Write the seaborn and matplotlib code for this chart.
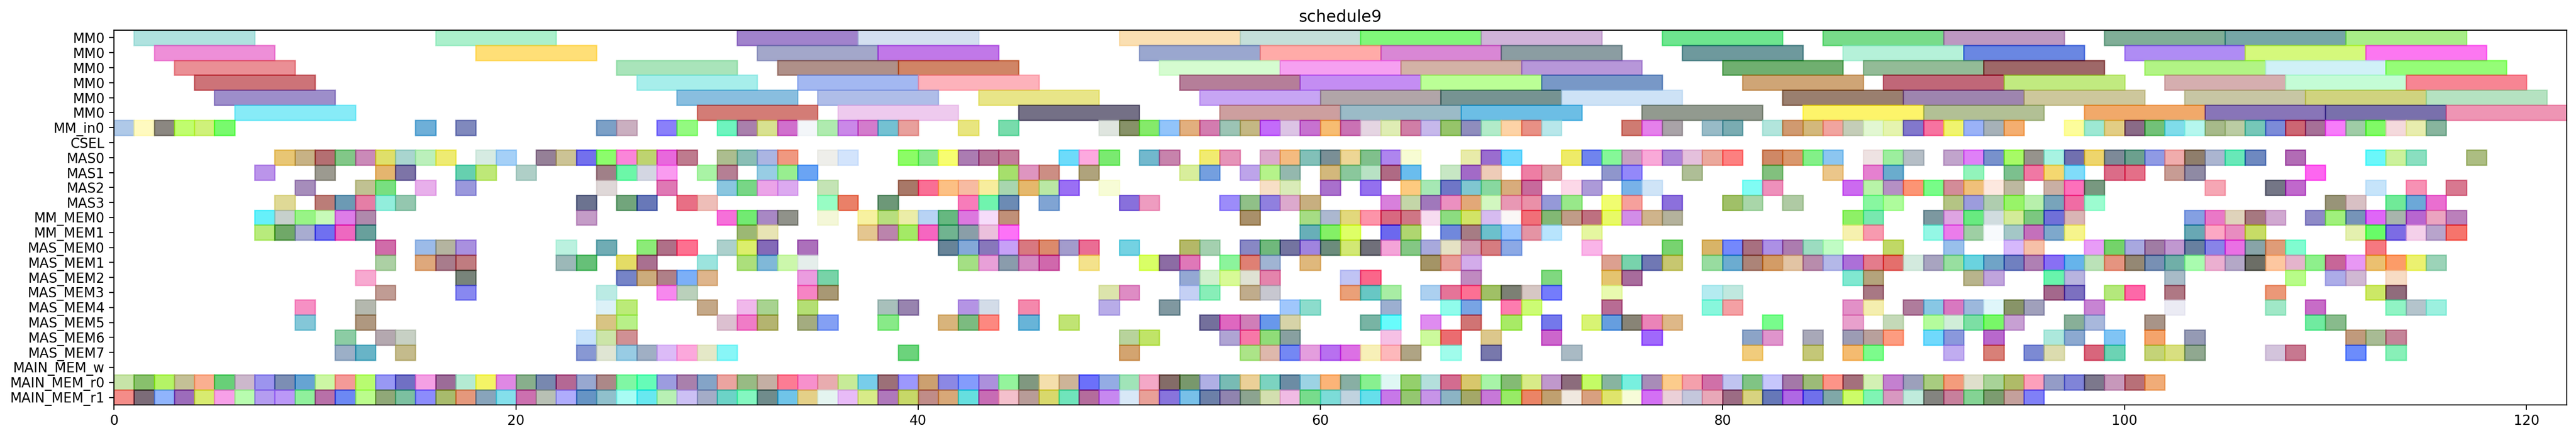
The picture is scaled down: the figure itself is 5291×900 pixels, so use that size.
import matplotlib
matplotlib.use('Agg')
import matplotlib.pyplot as plt
from matplotlib.colors import to_rgb
import numpy as np
import seaborn as sns

# row names, top to bottom
row_labels = ['MM0', 'MM0', 'MM0', 'MM0', 'MM0', 'MM0', 'MM_in0', 'CSEL',
              'MAS0', 'MAS1', 'MAS2', 'MAS3', 'MM_MEM0', 'MM_MEM1',
              'MAS_MEM0', 'MAS_MEM1', 'MAS_MEM2', 'MAS_MEM3', 'MAS_MEM4',
              'MAS_MEM5', 'MAS_MEM6', 'MAS_MEM7', 'MAIN_MEM_w', 'MAIN_MEM_r0', 'MAIN_MEM_r1']

# the six MM0 rows run for 6 cycles, everything else for 1
mm_duration = 6
cell_duration = 1

mm0_a_start = [1, 16, 31, 37, 50, 56, 62, 68, 77, 85, 91, 99, 105, 111]
mm0_a_color = ['#b0e3df', '#abf0cc', '#a183cc', '#d3e0f0', '#fadfb3', '#c5dfda', '#80f87a', '#d0b3d9', '#6ee58f', '#78dc8a', '#bd98c2', '#80ae97', '#76a6a7', '#a8ef88']
mm0_b_start = [2, 18, 32, 38, 51, 57, 63, 69, 78, 86, 92, 100, 106, 112]
mm0_b_color = ['#ef8fd8', '#ffdf77', '#a3a7cb', '#c278e8', '#9aa7cf', '#ffaba8', '#da87d5', '#8b9da2', '#6e999d', '#b5f1da', '#6a87e2', '#b08cf5', '#d5f97c', '#fc77f2']
mm0_c_start = [3, 25, 33, 39, 52, 58, 64, 70, 80, 87, 93, 101, 107, 113]
mm0_c_color = ['#ea8f95', '#a9e4ba', '#b09089', '#d18565', '#d5fcd0', '#f6a0f2', '#d4b3a6', '#b797d9', '#70af70', '#93bc97', '#9e6868', '#b3f485', '#d0f2f8', '#95fe77']
mm0_d_start = [4, 26, 34, 40, 53, 59, 65, 71, 81, 88, 94, 102, 108, 114]
mm0_d_color = ['#cd7378', '#a7eeec', '#a3b9f2', '#fdb2bc', '#b67e99', '#c58df3', '#bbff96', '#7898c8', '#cfa576', '#c06778', '#c2ea80', '#d5aeb0', '#c4fcd7', '#f78593']
mm0_e_start = [5, 28, 35, 43, 54, 60, 66, 72, 83, 89, 95, 103, 109, 115]
mm0_e_color = ['#9d8eca', '#89bfdf', '#b0bde8', '#e9e688', '#c8a5f4', '#b1a5a8', '#769392', '#cde3f6', '#9a7f6f', '#9e85b0', '#cdc89c', '#c8c6a4', '#d0d37f', '#b6e2c2']
mm0_f_start = [6, 29, 36, 45, 55, 61, 67, 76, 84, 90, 98, 104, 110, 116]
mm0_f_color = ['#87ebf8', '#d47c76', '#efcbee', '#747086', '#cd9f9f', '#9bbcc7', '#6cbfe6', '#929a8f', '#fef46a', '#b2c095', '#f2a96a', '#8875b8', '#7970ac', '#ee95b4']

mm_in0_start = [0, 1, 2, 3, 4, 5, 15, 17, 24, 25, 27, 28, 30, 31, 32, 33, 34, 35, 36, 37, 38, 39, 42, 44, 49, 50, 51, 52, 53, 54, 55, 56, 57, 58, 59, 60, 61, 62, 63, 64, 65, 66, 67, 68, 69, 70, 71, 75, 76, 77, 79, 80, 82, 83, 84, 85, 86, 87, 88, 89, 90, 91, 92, 93, 94, 97, 98, 99, 100, 101, 102, 103, 104, 105, 106, 107, 108, 109, 110, 111, 112, 113, 114, 115]
mm_in0_color = ['#b0c9e9', '#fffac0', '#8b8781', '#c0fd6e', '#cff27a', '#78fb6d', '#6eb0d8', '#8089bd', '#7ca0c6', '#cbb0c0', '#8a80fb', '#93fb80', '#6ef5bf', '#a980ac', '#d8e190', '#d070ce', '#f3f6f9', '#b0ebb0', '#cb88e8', '#d47ccc', '#74c1d2', '#e8a09c', '#e9e67f', '#78dcac', '#e0e6e0', '#879268', '#85ea6a', '#92c4fb', '#e3b07e', '#d47cb0', '#9cc5b5', '#c4b884', '#c36bfb', '#dcc4e6', '#c872d0', '#f8bd72', '#ca72b4', '#e6d5e3', '#e0edb4', '#d07ea6', '#c6b9ec', '#96c46a', '#8f8dbd', '#b3ecc9', '#fdd4a6', '#e89085', '#b8e7ea', '#cf7b72', '#e680ec', '#aaa3a8', '#98bbc8', '#7aacb3', '#b3e5dc', '#d19a70', '#d4b87c', '#f2a49f', '#c5cdb9', '#e2f7d2', '#e6f5b0', '#8278cc', '#f873a0', '#f0f56e', '#9ab2f8', '#a6b1b8', '#f4ae70', '#fdfd9b', '#9de8d3', '#e3cd84', '#8a6b87', '#72c178', '#7fdcea', '#b6f8ee', '#a7ba8a', '#bbcca3', '#76c8b8', '#7c8bd8', '#cc6473', '#a67097', '#f87cfa', '#9fcca6', '#80fa5e', '#f5d9dd', '#e9edae', '#88b69e']

csel_start = []
csel_color = []

mas0_start = [8, 9, 10, 11, 12, 13, 14, 15, 16, 18, 19, 21, 22, 23, 24, 25, 26, 27, 28, 30, 31, 32, 33, 35, 36, 39, 40, 41, 42, 43, 44, 47, 48, 49, 51, 52, 54, 55, 57, 58, 59, 60, 61, 62, 63, 64, 67, 68, 69, 72, 73, 74, 75, 76, 77, 78, 79, 80, 82, 83, 84, 85, 87, 88, 89, 91, 92, 93, 94, 95, 96, 97, 98, 99, 100, 101, 102, 103, 104, 105, 106, 108, 112, 113, 114, 117]
mas0_color = ['#e8c674', '#c8b285', '#b46f72', '#82c888', '#ca8ab8', '#e0e06a', '#aad5cf', '#bbf0bb', '#efeb72', '#d6ece2', '#a5d0f7', '#958097', '#ccc395', '#7370ed', '#8cfc6c', '#fb85d9', '#bed470', '#e868dc', '#bf7b8e', '#adbd8f', '#8abfb5', '#abb6e3', '#f09880', '#eeeeea', '#d4e4fc', '#8cfc66', '#8ae890', '#f7fe70', '#ab7cb2', '#b6749a', '#c47d9b', '#6ddbfb', '#fda9e0', '#7aea70', '#72b9cd', '#c883ad', '#f1eb70', '#e593b8', '#dcaacc', '#f4bc80', '#82c0b8', '#7a8f96', '#edd695', '#80c08c', '#ae85ee', '#f7fcd3', '#e9ecaa', '#9a6dcf', '#70d8fd', '#eeec68', '#7084ef', '#85f898', '#c6a0c2', '#f9a9d8', '#ac85d8', '#e4c0dc', '#eca89c', '#fd8080', '#cf8866', '#da976d', '#83f088', '#8cc6f0', '#efe2e2', '#9cee9e', '#b6bec6', '#c2a4cc', '#e080f7', '#7891cc', '#a7fa66', '#96938c', '#a8f3e3', '#7170af', '#efd56c', '#7d8a98', '#6ca08e', '#8f9ae4', '#f0acac', '#8f7e6c', '#abb6d0', '#68e8b8', '#6e89c0', '#b26cb6', '#6bf8fa', '#ccf29c', '#8ae0c0', '#acbd82']

mas1_start = [7, 10, 13, 14, 17, 18, 20, 24, 25, 26, 27, 29, 30, 32, 33, 34, 44, 45, 46, 48, 53, 54, 56, 57, 58, 60, 61, 62, 63, 64, 66, 67, 68, 70, 71, 74, 75, 78, 82, 85, 87, 88, 92, 94, 95, 96, 97, 99, 100, 102, 103, 109]
mas1_color = ['#bc94ea', '#9c9a90', '#e4b56f', '#7d74a7', '#64d0b0', '#bfe878', '#b0cfc8', '#a08088', '#6cf8a8', '#d3d7e3', '#fa9bf0', '#a9f3a5', '#b67f94', '#98cde4', '#98ee90', '#6aa4f4', '#a6e06c', '#de95c0', '#cc8e84', '#b0a37c', '#d8ee9c', '#749fe0', '#bda4ea', '#b5f38a', '#94b8ae', '#d3b87c', '#8ac89c', '#b8e3c4', '#b06a84', '#6abdee', '#c8e7c4', '#a26ac8', '#eeccb8', '#ee7ea4', '#dea0a8', '#8f96cc', '#9388fb', '#aebe96', '#82c07e', '#ecc68a', '#e680d0', '#6aacce', '#92f4bc', '#7cc08e', '#f078a4', '#f5d870', '#80dcfb', '#db6c88', '#e46f88', '#c89c94', '#8f8aa4', '#fd58f0']

mas2_start = [9, 12, 13, 15, 17, 24, 27, 30, 31, 32, 33, 35, 39, 40, 41, 42, 43, 44, 45, 46, 47, 49, 57, 58, 60, 62, 64, 65, 66, 67, 68, 69, 70, 72, 73, 75, 76, 81, 82, 86, 87, 88, 89, 90, 91, 92, 93, 94, 96, 97, 98, 104, 107, 108, 112, 114, 116]
mas2_color = ['#a68dbc', '#c0c292', '#78e080', '#e8b0ec', '#9a98dc', '#e0d8d8', '#e078b4', '#8ac6e0', '#78d686', '#eba4e8', '#dcaaf0', '#c4e4b5', '#a87868', '#f96f95', '#fcc084', '#f8bca2', '#f7ed9d', '#a8d6b0', '#e6b86c', '#bae9a4', '#9a6ff4', '#f8fcd6', '#f7dfc6', '#d9ecb8', '#aa70cc', '#9470ee', '#fdca7f', '#a6e8b4', '#6f76c8', '#80c8d0', '#88d8a0', '#d8ac7c', '#c86a9c', '#fcd8e8', '#ac9ad8', '#78b2e8', '#cfe4f8', '#80fcf4', '#ee90bc', '#cc6af0', '#b8f4a8', '#b690c4', '#fc9474', '#78fc88', '#d48c98', '#f0c07a', '#fde9e0', '#bdb8a0', '#c9b0a4', '#fe70bc', '#789880', '#f6a6b4', '#747686', '#c068cc', '#c6e4fa', '#f891b4', '#d87890']

mas3_start = [8, 10, 11, 12, 13, 14, 23, 25, 26, 28, 29, 35, 36, 38, 42, 43, 44, 46, 50, 51, 55, 56, 57, 58, 59, 63, 64, 65, 66, 67, 68, 69, 70, 71, 72, 74, 75, 77, 80, 81, 83, 87, 88, 91, 92, 93, 94, 95, 96, 97, 98, 110, 111, 113, 114, 115]
mas3_color = ['#e0da96', '#bc7d78', '#6c9ab4', '#e67ea6', '#92eedc', '#94c8b0', '#6c7390', '#72a57c', '#6878b8', '#e96f85', '#efbfb8', '#98fdc4', '#ea8068', '#6d9878', '#f87cba', '#70f4ae', '#6c8bb4', '#80a4d4', '#8870dc', '#ee9cc0', '#9c8cfa', '#90c088', '#9080e0', '#dcaace', '#c8b080', '#d880dc', '#c4d6a8', '#a078bc', '#ec90c0', '#e2a878', '#d2f8c0', '#e898b4', '#ea90a8', '#9599d8', '#98e88a', '#f0fe70', '#f6a09c', '#8c70dc', '#a0c068', '#aad6aa', '#b0cba4', '#88f8a0', '#aefc9c', '#b4c484', '#9c9cdc', '#b0ceb0', '#98f568', '#b8f0ac', '#78a4bc', '#f06ca4', '#9cfcd0', '#989478', '#d8c0c4', '#70ea98', '#6ca8d8', '#ea6ed0']

mm_mem0_start = [7, 8, 9, 10, 11, 12, 23, 30, 31, 32, 33, 35, 37, 38, 39, 40, 41, 42, 43, 44, 56, 59, 60, 61, 62, 63, 64, 65, 66, 67, 68, 69, 70, 71, 72, 73, 74, 75, 76, 77, 86, 87, 90, 91, 92, 93, 94, 95, 96, 97, 103, 104, 105, 106, 107, 109, 110, 111, 112, 113, 114, 115, 116]
mm_mem0_color = ['#66f0fa', '#c6d0cc', '#98f586', '#c8fbb8', '#de7ce9', '#b089ac', '#c49cc8', '#f670da', '#72ea72', '#a888c4', '#90928a', '#f4f8d8', '#f8f2a0', '#b8de7e', '#ecedA8', '#b8d4f4', '#66b880', '#dc78e0', '#f6dcfa', '#c09078', '#aa906a', '#a6dc84', '#acb8d0', '#e2d87c', '#fd94aa', '#d86880', '#cf7685', '#f8dcf0', '#8cdc80', '#d2e466', '#d6bcf0', '#faf8f6', '#f26f78', '#82b874', '#c09c88', '#bf7080', '#e8fa60', '#d28de8', '#cfb48c', '#b4b29c', '#8ef060', '#78e8b0', '#7c98a0', '#dea4e2', '#68ea80', '#d0dce0', '#d4ec98', '#7cc880', '#7070d8', '#dab6b6', '#84a0e2', '#ea78c8', '#e0d4bc', '#a67880', '#d0a8d0', '#8e8ac8', '#a0f07c', '#7694b8', '#e060f8', '#a8b4ac', '#b864d0', '#eca4c0', '#bb80bc']

mm_mem1_start = [7, 8, 9, 10, 11, 12, 31, 32, 37, 38, 39, 40, 41, 42, 43, 44, 59, 60, 61, 63, 64, 66, 67, 68, 69, 70, 71, 73, 86, 87, 90, 91, 92, 93, 94, 95, 96, 97, 103, 104, 105, 106, 111, 112, 113, 114, 115, 116]
mm_mem1_color = ['#b8ec7c', '#70a868', '#a8acd0', '#7070f0', '#ee68c0', '#68a09c', '#9cb874', '#e8e4b4', '#e4c690', '#bc84ac', '#a4ea60', '#f664c0', '#70b490', '#8a9ea8', '#ecc0dc', '#fd72f8', '#68b0b8', '#84f060', '#deff66', '#6c68ee', '#b0d670', '#7088dc', '#a67c84', '#6cc0cc', '#96c4fc', '#e494a4', '#b8e4fd', '#e6f6a0', '#f6f2b0', '#f89ab0', '#94f8e6', '#ec7cec', '#9ecfa4', '#f8fafd', '#a4c8c8', '#c470bc', '#7ea8cc', '#f6f48c', '#68a8b4', '#fca8c4', '#e88cc0', '#c8dc66', '#e4f0b0', '#68fc68', '#7c6ce4', '#f4d0ea', '#b8a4cc', '#f6746c']

mas_mem0_start = [13, 15, 16, 17, 22, 24, 26, 27, 28, 30, 31, 32, 34, 41, 42, 43, 44, 45, 46, 47, 48, 50, 53, 54, 56, 57, 58, 59, 60, 61, 62, 63, 64, 65, 66, 67, 68, 69, 73, 77, 79, 80, 81, 82, 83, 84, 85, 88, 91, 94, 95, 98, 99, 100, 101, 102, 103, 104, 105, 106, 107, 108, 112]
mas_mem0_color = ['#d06caa', '#9cbce8', '#b4b4a0', '#aa90e0', '#bcf2e0', '#70acb4', '#8cec78', '#b07088', '#fe7090', '#acd0cc', '#dcee6c', '#846ab8', '#ac70bc', '#688498', '#84aad8', '#8878bc', '#c8a0f8', '#d87880', '#dc8a6c', '#a39ccc', '#ea6d94', '#74d2e2', '#b4b868', '#a4d0b0', '#8888c4', '#70b87c', '#7474a0', '#a084e0', '#6c8c7c', '#d2e874', '#70707a', '#f4a4d8', '#84c884', '#a8aadc', '#e6e2c4', '#d09ab0', '#d67c80', '#8caae6', '#fab4e8', '#78d470', '#d8b468', '#7488fc', '#a87080', '#ac90e6', '#ac7cb0', '#9cdcc0', '#c0fcc4', '#c0d860', '#98c0ec', '#d6b8fc', '#f6c0a8', '#e89cf8', '#74d46a', '#a8a8e0', '#a07ca4', '#c098d0', '#6880a0', '#8884e8', '#ea70e4', '#88a4a8', '#e09c78', '#80fcd0', '#f67880']

mas_mem1_start = [13, 15, 16, 17, 22, 23, 25, 26, 29, 31, 32, 33, 34, 42, 43, 44, 45, 46, 48, 51, 52, 53, 55, 56, 57, 59, 65, 66, 67, 74, 75, 76, 77, 79, 80, 81, 82, 83, 84, 85, 86, 87, 88, 89, 90, 91, 92, 93, 94, 95, 96, 97, 98, 99, 100, 101, 102, 103, 104, 105, 106, 107, 108, 109, 110, 111, 112, 113, 114, 115]
mas_mem1_color = ['#acd0a4', '#dea87c', '#a87c8c', '#c07c80', '#9cb8b8', '#66c078', '#e4dc60', '#aa7090', '#9ce4de', '#ace07c', '#80b8d8', '#ccf8ac', '#e6eeec', '#a4e084', '#e8a0d8', '#8a9cac', '#d488c0', '#d068ac', '#f4e28c', '#daff60', '#8c6ca4', '#e078b8', '#8cf49c', '#e08074', '#a0b4d4', '#e0b87c', '#a49464', '#e89c98', '#d4acea', '#dca090', '#78d4ac', '#7078b4', '#c8c870', '#98dca0', '#6cacd0', '#ac8478', '#d49c66', '#e2c4a4', '#b88cac', '#b4b8e8', '#ac70d8', '#e47c8c', '#e46f6c', '#d4eade', '#a8a4c0', '#98e0a0', '#6ad4e0', '#70a4c8', '#7080c0', '#b080b4', '#8870f4', '#64b4ec', '#bce2b8', '#e69480', '#948874', '#7890b4', '#70b0a8', '#aafcb0', '#ecb0d0', '#b4a8c8', '#6c6e64', '#fec8a0', '#e4b4cc', '#8ef08c', '#c86698', '#e898f4', '#ecc070', '#fc9c68', '#ecf270', '#9cd4b8']

mas_mem2_start = [12, 17, 25, 26, 27, 28, 29, 34, 35, 53, 54, 55, 56, 57, 61, 62, 67, 71, 74, 75, 86, 87, 92, 93, 96, 97, 102, 108, 110, 111, 113]
mas_mem2_color = ['#f8aad0', '#78847a', '#7684c8', '#ccac7c', '#b08088', '#7cb0f8', '#deb68c', '#ec9ce0', '#78d4a8', '#94a8d4', '#d0f0cc', '#d8fa96', '#e0e2d4', '#e484ac', '#c0c4f4', '#fa668a', '#c08ac0', '#80d880', '#e4c470', '#a86c9c', '#80e8d0', '#b4a47c', '#b8b48c', '#c0a4dc', '#68f4ac', '#b8b4e0', '#a8bcc8', '#b8fc88', '#acace8', '#d0b8d4', '#f8dcc4']

mas_mem3_start = [13, 17, 24, 27, 28, 34, 35, 49, 50, 53, 54, 56, 57, 61, 62, 63, 65, 66, 67, 68, 69, 70, 71, 74, 79, 80, 87, 96, 97, 99, 100, 102, 107, 112, 113]
mas_mem3_color = ['#c09c94', '#8888f0', '#bcece4', '#f888ee', '#bad0bc', '#f684c4', '#a89874', '#dce4ac', '#de8cc4', '#c4d0f4', '#88eeb8', '#c0ac8c', '#c8c8d0', '#eaa078', '#68c8c4', '#a8eda4', '#acd0f0', '#e67498', '#fe7094', '#a0c060', '#7c8074', '#d6c8c4', '#747cfc', '#e8fab0', '#b4ecf0', '#c0e8e0', '#a87884', '#a4688c', '#7c70c0', '#b4e87c', '#fe68a8', '#b07884', '#ec9878', '#cce85c', '#906c7c']

mas_mem4_start = [9, 12, 24, 25, 29, 31, 32, 34, 38, 39, 42, 43, 45, 49, 52, 58, 59, 63, 66, 67, 69, 70, 74, 79, 80, 86, 87, 89, 90, 91, 92, 93, 94, 95, 98, 102, 107, 109, 113, 114, 115]
mas_mem4_color = ['#f690c4', '#b4b8ae', '#dcf2f8', '#bcec78', '#c4a888', '#f0b8ec', '#a8d490', '#b4e074', '#a8c0bc', '#9884b0', '#b494e4', '#d4dce8', '#f488ac', '#b8ace8', '#8098a0', '#a0c8fc', '#8cdccc', '#9cb0d0', '#90fcec', '#78a4e4', '#fe7cb0', '#ccfc74', '#b86c94', '#88f8dc', '#f4a0a4', '#e290c8', '#f4eeb0', '#b07c9c', '#88c8e4', '#d878c0', '#9cb8dc', '#e0f6fa', '#889468', '#a0a0bc', '#c884d4', '#ececf4', '#a0e8c8', '#c86cc8', '#90f4c4', '#b4c4cc', '#9cf0e0']

mas_mem5_start = [9, 12, 24, 25, 30, 31, 32, 34, 35, 38, 41, 42, 43, 45, 47, 54, 55, 56, 57, 58, 62, 63, 65, 67, 69, 71, 73, 74, 75, 76, 77, 82, 86, 88, 90, 91, 92, 93, 94, 97, 98, 101, 109, 110]
mas_mem5_color = ['#84c8d8', '#b09880', '#d8c484', '#b8f088', '#dcc0d0', '#f07cc8', '#b4b470', '#a4ac80', '#84a0f4', '#88ea88', '#d8b47c', '#7cbc80', '#fe8880', '#68b4d8', '#c0e474', '#74709c', '#e068c0', '#d07eb8', '#6898ec', '#d6d4a8', '#78b4a4', '#68fcfc', '#e08cf0', '#d07474', '#a8ea60', '#7478ec', '#d8f474', '#649ee0', '#888476', '#ec84b8', '#deb888', '#78fc8c', '#e8a0cc', '#c4dab8', '#b4fc9c', '#d0eed8', '#7ce0a4', '#78f868', '#c8a0d4', '#88b098', '#a8b8dc', '#a89488', '#70eca0', '#88bc8c']

mas_mem6_start = [11, 13, 14, 23, 24, 25, 50, 51, 55, 56, 57, 58, 63, 65, 66, 68, 71, 76, 81, 82, 84, 86, 87, 88, 90, 91, 93, 96, 97, 99, 101, 103, 111, 112, 113]
mas_mem6_color = ['#8ccca4', '#b4a8b0', '#c8d0c4', '#c8e2fa', '#cce6a8', '#d09094', '#b8d49c', '#c0e468', '#b0a4d4', '#f878a8', '#90dc78', '#88a0a0', '#f6c0e6', '#ccfa9c', '#ec6c70', '#dcc88c', '#cc64cc', '#a068fc', '#8ca4c8', '#e094cc', '#a8a8b8', '#9c9cb4', '#b8a09c', '#fe9c80', '#70dafc', '#8a98dc', '#b868cc', '#ace8dc', '#8caad0', '#80c4f4', '#f4a46c', '#959ab4', '#c09a7c', '#a8bc94', '#c48498']

mas_mem7_start = [11, 12, 14, 23, 24, 25, 26, 27, 28, 29, 30, 39, 50, 56, 57, 58, 59, 60, 61, 62, 63, 64, 66, 68, 72, 81, 84, 86, 87, 91, 93, 95, 96, 98, 99, 101, 102, 103, 107, 108, 111, 113]
mas_mem7_color = ['#9cb0c8', '#68b4c8', '#c4bc8c', '#8898d4', '#e0e6d4', '#98cce4', '#a0b0c4', '#dcbcf8', '#fca8dc', '#e4e8c8', '#88f6f8', '#6cd47c', '#d4a470', '#ace488', '#deb8ac', '#7488f4', '#e49ede', '#b870f0', '#dc70e4', '#f8f0b8', '#fdb8bc', '#b0a484', '#a0fcec', '#7878ac', '#aabac4', '#f2cc7c', '#c4c878', '#f4bc70', '#7cfc8c', '#c0acf0', '#d88078', '#7c8ad4', '#dcdcb0', '#d8647c', '#6cd4b4', '#c4d478', '#d8e080', '#90a890', '#d4c4dc', '#c87890', '#6c8cfc', '#88f0b8']

main_w_start = []
main_w_color = []

# the two read ports are busy every cycle up to the end of the trace
main_r0_start = list(range(0, 102))
main_r0_color = ['#c8e4a8', '#88c06c', '#b4f464', '#c4c096', '#fbb090', '#68d078', '#ccb8cc', '#9c94ee', '#7c8eb4', '#64a4d4', '#ccf8a4', '#f49a98', '#b8fc70', '#9898f4', '#7070c4', '#f4a0e4', '#9c6c98', '#b4ecd4', '#f4f460',
                 '#e088e4', '#88b08c', '#7888b0', '#b46894', '#98a8d0', '#ac8888', '#80f8a4', '#64fcb8', '#9c9ce0', '#a980ac', '#84a4c8', '#eca4a0', '#98bc84', '#c4b0a4', '#fc7c94', '#f890cc', '#e8acb0', '#c8ec98', '#78ceea', '#9c7078', '#9c98fc', '#cca070',
                 '#8c88e4', '#849cfc', '#ac90dc', '#94f49c', '#809880', '#f4e0ac', '#ceb498', '#6c70fa', '#94ace4', '#a0e4b8', '#f4a8c8', '#846c68', '#78986c', '#b0b0e4', '#78bcb4', '#ecd098', '#7cd4c0', '#6c8ca4', '#9cd4e4', '#fcb478', '#88b0a4', '#88f090',
                 '#dff8f4', '#94d06c', '#b4e0dc', '#d46c90', '#d8c86c', '#a8f4a8', '#84bc74', '#d8ec88', '#c098cc', '#8c6c7c', '#c4fc64', '#88b4a0', '#78f0e0', '#a88cb8', '#fccc8c', '#f4a0ac', '#d070a8', '#c0c4f0', '#80c484', '#c8c8fc',
                 '#a478a8', '#9cbc78', '#fc9488', '#a4707c', '#d4f0b4', '#c480d0', '#9ca0bc', '#a8cc80', '#f49c7c', '#e0e0cc', '#a8d498', '#b0bc68', '#fca0bc', '#949cc8', '#8084d8', '#7c788c', '#c898bc', '#b87078', '#f0ac78']
main_r1_start = list(range(0, 96))
main_r1_color = ['#f48c88', '#7c6c78', '#90b4fc', '#9c6cbc', '#d8ec70', '#f8a0e8', '#b8fcb0', '#b49cf0', '#bc98f8', '#90f09c', '#b870a8', '#6c88f4', '#bcfc8c', '#90a878', '#7cc0a0', '#8c8cfc', '#a8bc6c', '#e4987c', '#88a4bc',
                 '#84e0ec', '#cc70b0', '#b8c0b4', '#b0acfc', '#6494c4', '#90c0cc', '#a8fcf4', '#68e8f0', '#b8f0b4', '#ccc0f4', '#a4acc8', '#6cd4c8', '#84f8c0', '#708c8c', '#70c4e8', '#e4d088', '#e4f4f0', '#e8bcf8', '#d8ec88', '#b078bc', '#c8d868', '#c08c88',
                 '#d8a878', '#64e0e0', '#c86cb4', '#f4c0cc', '#b89c98', '#d8d86c', '#70e4bc', '#b46c9c', '#c888f0', '#d8e8f8', '#e8a098', '#8874dc', '#78c0e8', '#6c80a8', '#9084b0', '#8ca490', '#d4e0b0', '#f0bce4', '#78dc8c', '#7cdcd8', '#c0d4e0', '#64e0ec',
                 '#c878e8', '#94c870', '#c894e8', '#8cb4c4', '#a4a868', '#c878d8', '#98ec60', '#ec8464', '#c0a070', '#f0e8e0', '#d8a080', '#e0e46c', '#f8fcd8', '#d470f4', '#ecd0d8', '#c4c8dc', '#e8a8b8', '#9c6c84', '#d8d480', '#6478b8',
                 '#b068e4', '#7070ec', '#80a8a8', '#ccfc68', '#80f4b4', '#d898c0', '#c0ecdc', '#848480', '#c8809c', '#84d494', '#7c9c70', '#c4a09c', '#8080f8']

rows = [(mm0_a_start, mm0_a_color, mm_duration), (mm0_b_start, mm0_b_color, mm_duration),
        (mm0_c_start, mm0_c_color, mm_duration), (mm0_d_start, mm0_d_color, mm_duration),
        (mm0_e_start, mm0_e_color, mm_duration), (mm0_f_start, mm0_f_color, mm_duration),
        (mm_in0_start, mm_in0_color, cell_duration), (csel_start, csel_color, cell_duration),
        (mas0_start, mas0_color, cell_duration), (mas1_start, mas1_color, cell_duration),
        (mas2_start, mas2_color, cell_duration), (mas3_start, mas3_color, cell_duration),
        (mm_mem0_start, mm_mem0_color, cell_duration), (mm_mem1_start, mm_mem1_color, cell_duration),
        (mas_mem0_start, mas_mem0_color, cell_duration), (mas_mem1_start, mas_mem1_color, cell_duration),
        (mas_mem2_start, mas_mem2_color, cell_duration), (mas_mem3_start, mas_mem3_color, cell_duration),
        (mas_mem4_start, mas_mem4_color, cell_duration), (mas_mem5_start, mas_mem5_color, cell_duration),
        (mas_mem6_start, mas_mem6_color, cell_duration), (mas_mem7_start, mas_mem7_color, cell_duration),
        (main_w_start, main_w_color, cell_duration), (main_r0_start, main_r0_color, cell_duration),
        (main_r1_start, main_r1_color, cell_duration)]

sns.set_style('ticks', {'axes.edgecolor': 'black', 'xtick.color': 'black', 'ytick.color': 'black',
                        'text.color': 'black', 'axes.labelcolor': 'black'})
plt.rcParams['font.family'] = 'DejaVu Sans'

BAR_ALPHA = 0.6


def base_color(shown):
    rgb = np.array(to_rgb(shown))
    return tuple(np.clip((rgb - (1 - BAR_ALPHA)) / BAR_ALPHA, 0, 1))


fig = plt.figure(figsize=(5291 / 200, 900 / 200), dpi=200)
ax = fig.add_axes([234 / 5291, 1 - 832 / 900, (5272 - 234) / 5291, (832 - 62) / 900])

for row, (starts, colors, duration) in enumerate(rows):
    for start, color in zip(starts, colors, strict=True):
        c = base_color(color)
        sns.barplot(x=[duration], y=[row], orient='h', native_scale=True, left=start, width=1,
                    color=c, saturation=1, alpha=BAR_ALPHA, edgecolor=c, linewidth=1,
                    errorbar=None, ax=ax)

ax.set_yticks(range(len(row_labels)))
ax.set_yticklabels(row_labels)
ax.set_xticks(range(0, 121, 20))
ax.set_xlim(0, 122)
ax.set_ylim(len(row_labels) - 0.5, -0.5)
ax.set_xlabel('')
ax.set_ylabel('')
ax.set_title('schedule9')

plt.savefig('out.png', dpi=200)
